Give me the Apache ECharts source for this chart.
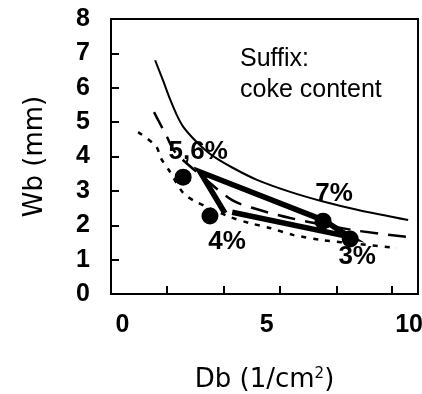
<!DOCTYPE html>
<html><head><meta charset="utf-8">
<script src="https://cdn.jsdelivr.net/npm/echarts@6/dist/echarts.min.js"></script>
<style>html,body{margin:0;padding:0;background:#fff}#c{width:422px;height:394px}</style>
</head><body><div id="c"></div>
<script>
// Thin solid curve
const solidCurve = [[1.13,6.80],[1.40,6.22],[1.65,5.66],[1.89,5.19],[2.10,4.87],[2.41,4.56],[2.76,4.27],[3.14,4.01],[3.80,3.68],[4.66,3.32],[5.81,2.97],[6.95,2.69],[8.13,2.45],[9.90,2.15]];
// Long-dash curve
const dashCurve = [[1.09,5.29],[1.51,4.62],[1.82,4.13],[2.79,3.40],[3.80,2.73],[4.52,2.50],[5.81,2.21],[7.99,1.86],[9.86,1.66]];
// Short-dash (dotted) curve
const dotCurve = [[0.54,4.71],[1.16,4.30],[1.33,3.95],[1.61,3.60],[2.10,2.94],[2.51,2.70],[3.73,2.24],[4.42,2.06],[5.11,1.92],[5.91,1.72],[6.91,1.57],[8.23,1.45],[9.51,1.34]];
// Thick trajectory path
const thickPath = [[3.55,2.35],[2.69,3.55],[6.95,2.15],[7.89,1.66],[3.80,2.38]];
// Measured points (coke content)
const pointX = [2.10, 3.03, 6.95, 7.89];
const pointY = [3.40, 2.27, 2.12, 1.60];
const pointLabels = ['5,6%', '4%', '7%', '3%'];
const labelOffsets = [[15,-25],[17,26],[11,-27],[7,18]];
// Axis ticks / labels
const xLabelValues = [0, 5, 10];
const xTickValues = [1.53, 3.52, 5.46, 7.42, 9.33];
const yMin = 0, yMax = 8, yStep = 1;
const xMin = -0.40, xMax = 10.24;

const boldFont = "'Liberation Sans',Arial,sans-serif";
const chart = echarts.init(document.getElementById('c'));
chart.setOption({
  animation: false,
  backgroundColor: '#fff',
  title: {
    text: 'Suffix:\ncoke content',
    left: 240, top: 44, padding: 0,
    textStyle: {fontFamily: "'Liberation Sans',Arial,sans-serif", fontWeight: 'normal', fontSize: 25, lineHeight: 31, color: '#000'}
  },
  grid: {left: 111, right: 4, top: 19, bottom: 100, show: true, borderColor: '#000', borderWidth: 2, containLabel: false, outerBoundsMode: 'none'},
  xAxis: {
    type: 'value', min: xMin, max: xMax,
    name: 'Db (1/cm{sup|2})', nameLocation: 'middle', nameGap: 73,
    nameTextStyle: {fontFamily: "'DejaVu Sans',sans-serif", fontSize: 26, color: '#000',
      rich: {sup: {fontFamily: "'DejaVu Sans',sans-serif", fontSize: 15, color: '#000', verticalAlign: 'top', padding: [0,0,12,0]}}},
    axisLine: {onZero: false, lineStyle: {color: '#000', width: 2}},
    axisTick: {inside: true, length: 8, lineStyle: {color: '#000', width: 2}, customValues: xTickValues},
    axisLabel: {customValues: xLabelValues, margin: 19, fontFamily: boldFont, fontWeight: 'bold', fontSize: 25, color: '#000',
      formatter: v => v === 10 ? '{r|10}' : String(v),
      rich: {r: {fontFamily: boldFont, fontWeight: 'bold', fontSize: 25, color: '#000', padding: [0, 4, 0, 0]}}},
    splitLine: {show: false}
  },
  yAxis: {
    type: 'value', min: yMin, max: yMax, interval: yStep,
    name: 'Wb (mm)', nameLocation: 'middle', nameGap: 63,
    nameTextStyle: {fontFamily: "'DejaVu Sans',sans-serif", fontSize: 26, color: '#000'},
    axisLine: {onZero: false, lineStyle: {color: '#000', width: 2}},
    axisTick: {inside: true, length: 8, lineStyle: {color: '#000', width: 2}},
    axisLabel: {margin: 21, fontFamily: boldFont, fontWeight: 'bold', fontSize: 25, color: '#000'},
    splitLine: {show: false}
  },
  series: [
    {type: 'line', data: solidCurve, smooth: 0.3, showSymbol: false, lineStyle: {color: '#000', width: 2}},
    {type: 'line', data: dashCurve, smooth: 0.3, showSymbol: false, lineStyle: {color: '#000', width: 2.5, type: [18, 10]}},
    {type: 'line', data: dotCurve, smooth: 0.3, showSymbol: false, lineStyle: {color: '#000', width: 2.5, type: [5, 7]}},
    {type: 'line', data: thickPath, showSymbol: false, lineStyle: {color: '#000', width: 5.5, join: 'miter'}, z: 3},
    {type: 'scatter', z: 5, symbolSize: 17, itemStyle: {color: '#000', opacity: 1},
      data: pointX.map((x, i) => ({value: [x, pointY[i]], label: {offset: labelOffsets[i]}})),
      label: {show: true, position: 'inside', formatter: p => pointLabels[p.dataIndex],
        fontFamily: boldFont, fontWeight: 'bold', fontSize: 26, color: '#000', opacity: 1}}
  ]
});
</script></body></html>
